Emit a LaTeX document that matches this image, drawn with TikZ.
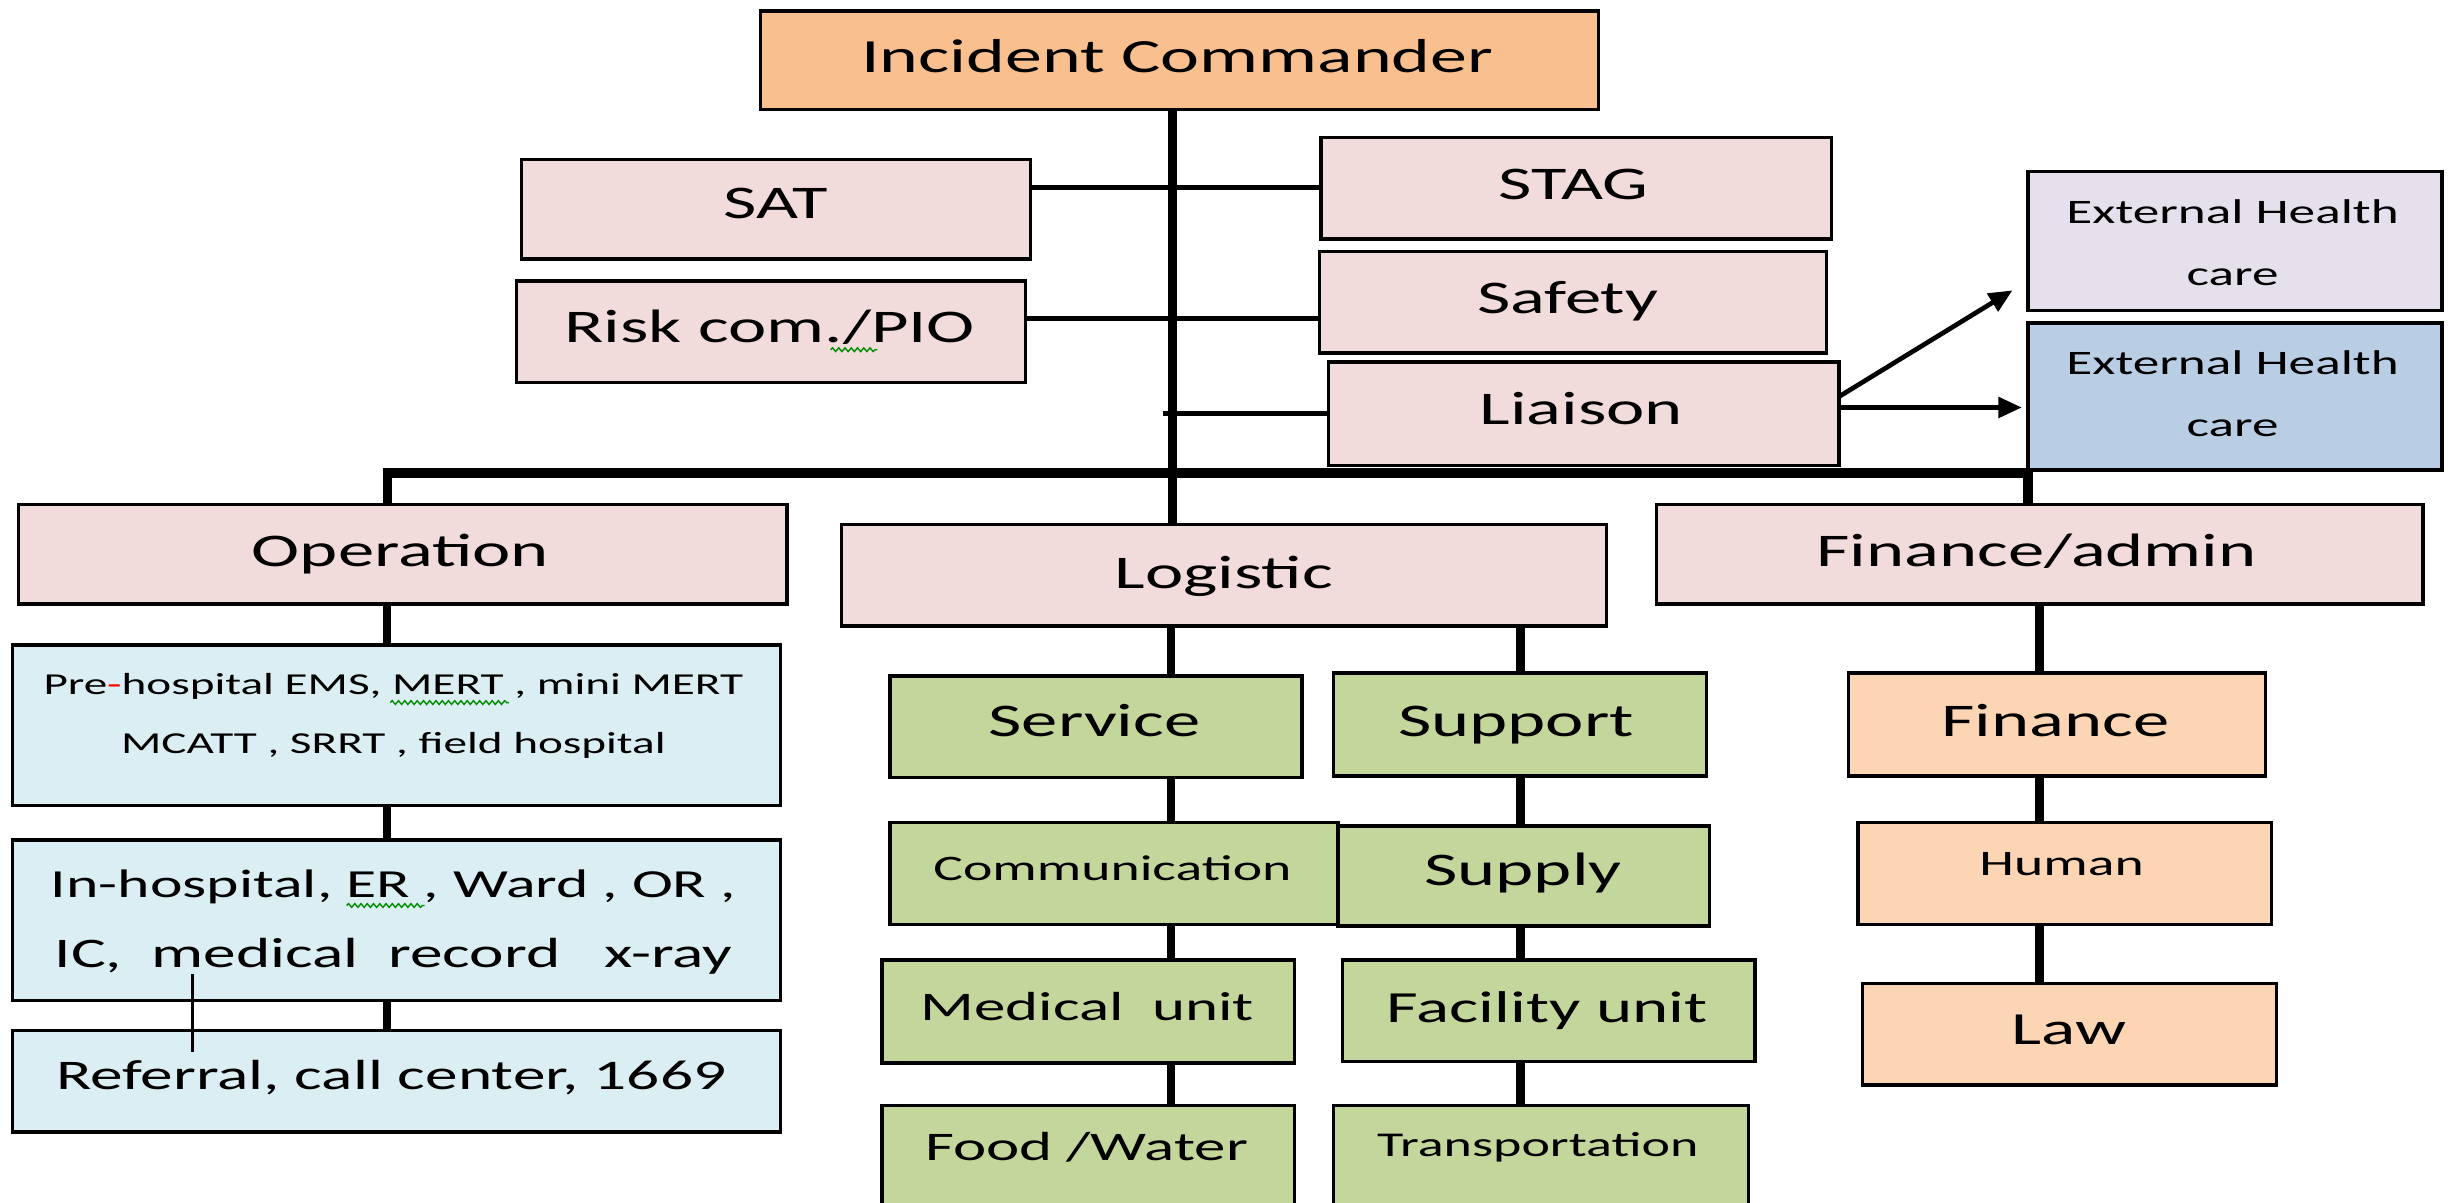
\documentclass[tikz,border=0pt]{standalone}
\usepackage{fontspec}
\setmainfont{Carlito}[FakeStretch=1.55]
\usetikzlibrary{arrows.meta,decorations.pathmorphing}
\definecolor{icor}{RGB}{249,191,143}
\definecolor{pk}{RGB}{242,220,219}
\definecolor{lav}{RGB}{229,224,236}
\definecolor{bl}{RGB}{185,205,229}
\definecolor{lb}{RGB}{219,238,243}
\definecolor{gr}{RGB}{195,214,155}
\definecolor{pc}{RGB}{252,213,181}
\newcommand\mkbox[6]{\node[#6, minimum width={(#4-#2)*1pt}, minimum height={(#5-#3)*1pt}] (#1) at ({(#2+#4)/2},{(#3+#5)/2}) {};}
\newcommand\mklabel[5]{\node[txt, font=\fontsize{#4}{#4}\selectfont, anchor=base] (#1) at (#2,#3) {#5};}
\begin{document}
\begin{tikzpicture}[x=1pt,y=-1pt,
 box/.style={draw=black, line width=2.2pt, inner sep=0pt, outer sep=0pt},
 conn/.style={line width=5.5pt},
 side/.style={line width=3.5pt},
 bus/.style={line width=6pt},
 arr/.style={line width=3pt,-{Triangle[length=15pt,width=13pt]}},
 wav/.style={draw=green!55!black, line width=0.9pt, decorate, decoration={snake, amplitude=1.2pt, segment length=4pt}},
 txt/.style={inner sep=0pt, text=black}]
\clip (0,0) rectangle (1568,770);
\fill[white] (0,0) rectangle (1568,770);
% boxes
\mkbox{ic}{487}{7}{1024}{70}{box,fill=icor}
\mkbox{sat}{334}{102}{660}{166}{box,fill=pk}
\mkbox{risk}{331}{180}{657}{245}{box,fill=pk}
\mkbox{stag}{846}{88}{1173}{153}{box,fill=pk}
\mkbox{safety}{845}{161}{1170}{226}{box,fill=pk}
\mkbox{liaison}{851}{232}{1178}{298}{box,fill=pk}
\mkbox{ext1}{1299}{110}{1564}{199}{box,fill=lav}
\mkbox{ext2}{1299}{207}{1564}{301}{box,fill=bl}
\mkbox{operation}{12}{323}{504}{387}{box,fill=pk}
\mkbox{logistic}{539}{336}{1029}{401}{box,fill=pk}
\mkbox{finadmin}{1061}{323}{1552}{387}{box,fill=pk}
\mkbox{pre}{8}{413}{500}{516}{box,fill=lb}
\mkbox{inh}{8}{538}{500}{641}{box,fill=lb}
\mkbox{ref}{8}{660}{500}{725}{box,fill=lb}
\mkbox{service}{570}{433}{834}{498}{box,fill=gr}
\mkbox{comm}{570}{527}{857}{592}{box,fill=gr}
\mkbox{medical}{565}{615}{829}{681}{box,fill=gr}
\mkbox{food}{565}{708}{829}{790}{box,fill=gr}
\mkbox{support}{854}{431}{1093}{497}{box,fill=gr}
\mkbox{supply}{857}{529}{1095}{593}{box,fill=gr}
\mkbox{facility}{860}{615}{1124}{680}{box,fill=gr}
\mkbox{transport}{854}{708}{1120}{790}{box,fill=gr}
\mkbox{finance}{1184}{431}{1451}{497}{box,fill=pc}
\mkbox{human}{1190}{527}{1455}{592}{box,fill=pc}
\mkbox{law}{1193}{630}{1458}{695}{box,fill=pc}
% reference coordinates
\coordinate (tr) at (751,0);
\coordinate (opx) at (248,0);
\coordinate (lg1) at (750,0);
\coordinate (lg2) at (974,0);
\coordinate (fx) at (1306.5,0);
\coordinate (bx2) at (1299,0);
\coordinate (busY) at (0,303);
\coordinate (ysat) at (0,120);
\coordinate (yrisk) at (0,204);
\coordinate (lia0) at (745,265);
\coordinate (ya1) at (0,254);
\coordinate (ya2) at (0,261);
\coordinate (a1e) at (1289,186);
\coordinate (th1) at (123.5,624);
\coordinate (th2) at (123.5,674);
% connectors
\draw[conn] (ic.south -| tr) -- (logistic.north -| tr);
\draw[side] (sat.east |- ysat) -- (stag.west |- ysat);
\draw[side] (risk.east |- yrisk) -- (safety.west |- yrisk);
\draw[side] (lia0) -- (liaison.west |- lia0);
\draw[arr] (liaison.east |- ya1) -- (a1e);
\draw[arr, shorten >=4pt] (liaison.east |- ya2) -- (ext2.west |- ya2);
\draw[bus] (operation.north -| opx) |- (busY -| bx2) -- (finadmin.north -| bx2);
\draw[conn] (operation.south -| opx) -- (pre.north -| opx);
\draw[conn] (pre.south -| opx) -- (inh.north -| opx);
\draw[conn] (inh.south -| opx) -- (ref.north -| opx);
\draw[line width=1.8pt] (th1) -- (th2);
\draw[conn] (logistic.south -| lg1) -- (service.north -| lg1);
\draw[conn] (service.south -| lg1) -- (comm.north -| lg1);
\draw[conn] (comm.south -| lg1) -- (medical.north -| lg1);
\draw[conn] (medical.south -| lg1) -- (food.north -| lg1);
\draw[conn] (logistic.south -| lg2) -- (support.north -| lg2);
\draw[conn] (support.south -| lg2) -- (supply.north -| lg2);
\draw[conn] (supply.south -| lg2) -- (facility.north -| lg2);
\draw[conn] (facility.south -| lg2) -- (transport.north -| lg2);
\draw[conn] (finadmin.south -| fx) -- (finance.north -| fx);
\draw[conn] (finance.south -| fx) -- (human.north -| fx);
\draw[conn] (human.south -| fx) -- (law.north -| fx);
% labels
\mklabel{ict}{754}{46.6}{30.5}{Incident Commander}
\mklabel{satt}{497}{140}{30}{SAT}
\mklabel{riskt}{493}{219.4}{30}{Risk com./PIO}
\mklabel{stagt}{1008}{127.5}{30}{STAG}
\mklabel{safetyt}{1004}{201}{30}{Safety}
\mklabel{liaisont}{1013}{272}{30}{Liaison}
\mklabel{ext1a}{1430}{143.4}{22}{External Health}
\mklabel{ext1b}{1430}{182.6}{22}{care}
\mklabel{ext2a}{1430}{240}{22}{External Health}
\mklabel{ext2b}{1430}{279.4}{22}{care}
\mklabel{opt}{256.5}{362.7}{30}{Operation}
\mklabel{logt}{784}{377}{30}{Logistic}
\mklabel{fat}{1304.5}{362.7}{30}{Finance/admin}
\mklabel{prea}{252}{444.6}{19.5}{Pre\textcolor{red}{-}hospital EMS, MERT , mini MERT}
\mklabel{preb}{252}{482.6}{19.5}{MCATT , SRRT , field hospital}
\mklabel{inha}{252}{575}{25.5}{In-hospital, ER , Ward , OR ,}
\mklabel{inhb}{252}{620}{27}{IC,\ \ medical\ \ record\ \ \ x-ray}
\mklabel{reft}{250.5}{698}{27}{Referral, call center, 1669}
\mklabel{servicet}{701}{471.8}{30}{Service}
\mklabel{commt}{712.5}{564}{23}{Communication}
\mklabel{medicalt}{696.5}{653.7}{26}{Medical\ \ unit}
\mklabel{foodt}{696}{743.5}{26}{Food /Water}
\mklabel{supportt}{971}{471.8}{30}{Support}
\mklabel{supplyt}{975.5}{567}{30}{Supply}
\mklabel{facilityt}{991}{654.7}{28.5}{Facility unit}
\mklabel{transportt}{985}{741}{22.3}{Transportation}
\mklabel{financet}{1316.5}{471.8}{30}{Finance}
\mklabel{humant}{1320.5}{560.6}{23}{Human}
\mklabel{lawt}{1325}{669}{29.5}{Law}
% spell-check marks
\draw[wav] (250,450) -- (326,450);
\draw[wav] (222,580) -- (272,580);
\draw[wav] (532,224) -- (562,224);
\end{tikzpicture}
\end{document}
